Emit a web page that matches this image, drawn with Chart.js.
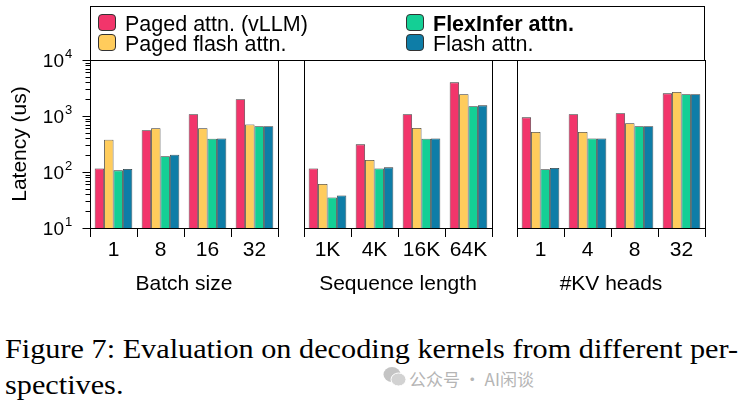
<!DOCTYPE html>
<html>
<head>
<meta charset="utf-8">
<script src="https://cdn.jsdelivr.net/npm/chart.js@4"></script>
<style>
  html, body { margin: 0; padding: 0; background: #fff; }
  #page { position: relative; width: 743px; height: 407px; overflow: hidden; font-family: "Liberation Sans", Arial, sans-serif; }
  .plot { position: absolute; left: 0; top: 0; width: 743px; height: 300px; }
  #legend { position: absolute; left: 90px; top: 6px; width: 615px; height: 55px; border: 1px solid #000; box-sizing: border-box; }
  .item { position: absolute; font-size: 21.5px; line-height: 21px; color: #000; white-space: nowrap; }
  .mark { position: absolute; width: 18px; height: 17px; border: 1px solid #333; border-radius: 4px; box-sizing: border-box; }
  .cap { position: absolute; left: 5px; font-family: "Liberation Serif", "Times New Roman", serif; font-size: 27.5px; color: #000; white-space: nowrap; transform-origin: 0 0; }
  #cap1 { top: 333px; }
  #cap2 { top: 369px; }
  #wm { position: absolute; left: 409px; top: 366px; font-family: "Noto Sans CJK SC", sans-serif; font-size: 17px; color: #b5b5b5; white-space: nowrap; }
</style>
</head>
<body>
<div id="page">
  <canvas id="c1" class="plot" width="743" height="300"></canvas>
  <canvas id="c2" class="plot" width="743" height="300"></canvas>
  <canvas id="c3" class="plot" width="743" height="300"></canvas>
  <div id="legend"></div>
  <span id="cap1" class="cap">Figure 7: Evaluation on decoding kernels from different per-</span>
  <span id="cap2" class="cap">spectives.</span>
  <svg style="position:absolute;left:383px;top:366px" width="24" height="22" viewBox="0 0 24 22">
    <ellipse cx="9" cy="8.5" rx="8.5" ry="7.5" fill="#c4c4c4"/>
    <ellipse cx="15.5" cy="13.5" rx="7.5" ry="6.5" fill="#d2d2d2" stroke="#fff" stroke-width="1"/>
  </svg>
  <div id="wm">公众号 · AI闲谈</div>
</div>
<script>
// Series names + colours
const seriesNames = ['Paged attn. (vLLM)', 'Paged flash attn.', 'FlexInfer attn.', 'Flash attn.'];
const seriesColors = ['#f2356b', '#ffcc5c', '#14cf95', '#0e7da7'];

// Panel 1: batch size
const batchLabels = ['1', '8', '16', '32'];
const batchPagedVllm = [116, 556, 1072, 2000];
const batchPagedFlash = [378, 603, 603, 705];
const batchFlexInfer = [107, 191, 393, 655];
const batchFlash = [113, 203, 396, 655];

// Panel 2: sequence length
const seqLabels = ['1K', '4K', '16K', '64K'];
const seqPagedVllm = [116, 312, 1072, 3990];
const seqPagedFlash = [61, 164, 611, 2440];
const seqFlexInfer = [35, 116, 393, 1490];
const seqFlash = [38, 121, 396, 1550];

// Panel 3: #KV heads
const headLabels = ['1', '4', '8', '32'];
const headPagedVllm = [946, 1072, 1117, 2540];
const headPagedFlash = [518, 518, 741, 2690];
const headFlexInfer = [112, 398, 655, 2450];
const headFlash = [118, 398, 655, 2450];

// y axis (log)
const yMajorTicks = [10, 100, 1000, 10000];
const yExponents = ['1', '2', '3', '4'];

// caption: stretch the serif text to the reference line width
const cap1 = document.getElementById('cap1');
const capScale = 733 / cap1.getBoundingClientRect().width;
cap1.style.transform = `scaleX(${capScale})`;
document.getElementById('cap2').style.transform = `scaleX(${capScale})`;

// legend (html)
const legendPos = [[98, 14], [98, 34], [406, 14], [406, 34]];
const legend = document.getElementById('legend');
seriesNames.forEach((name, i) => {
    const [x, y] = legendPos[i];
    const m = document.createElement('div');
    m.className = 'mark';
    m.style.left = (x - 91) + 'px';
    m.style.top = (y - 7) + 'px';
    m.style.background = seriesColors[i];
    legend.appendChild(m);
    const t = document.createElement('div');
    t.className = 'item';
    t.style.left = (x + 27 - 91) + 'px';
    t.style.top = (y - 7) + 'px';
    if (i === 2) t.style.fontWeight = 'bold';
    t.textContent = name;
    legend.appendChild(t);
});

// frame + y ticks
const framePlugin = {
    id: 'frame',
    afterDraw(chart, args, opts) {
        const ctx = chart.ctx;
        const a = chart.chartArea;
        const l = Math.floor(a.left) + 0.5, r = Math.floor(a.right) + 0.5;
        const t = Math.floor(a.top) + 0.5, b = Math.floor(a.bottom) + 0.5;
        ctx.save();
        ctx.strokeStyle = '#000';
        ctx.lineWidth = 1;
        ctx.strokeRect(l, t, r - l, b - t);
        if (opts.yLabels) {
            const ys = chart.scales.y;
            ctx.beginPath();
            yMajorTicks.forEach((v, k) => {
                const py = Math.round(ys.getPixelForValue(v)) + 0.5;
                ctx.moveTo(l - 8, py); ctx.lineTo(l, py);
                if (k < yMajorTicks.length - 1) {
                    for (let m = 2; m <= 9; m++) {
                        const my = Math.round(ys.getPixelForValue(v * m)) + 0.5;
                        ctx.moveTo(l - 5, my); ctx.lineTo(l, my);
                    }
                }
            });
            ctx.stroke();
            ctx.fillStyle = '#000';
            yMajorTicks.forEach((v, k) => {
                const py = ys.getPixelForValue(v);
                ctx.font = '19px "Liberation Sans", Arial, sans-serif';
                ctx.textAlign = 'right';
                ctx.textBaseline = 'alphabetic';
                ctx.fillText('10', 64, py + 7);
                ctx.font = '13px "Liberation Sans", Arial, sans-serif';
                ctx.textAlign = 'left';
                ctx.fillText(yExponents[k], 65, py - 2);
            });
        }
        ctx.restore();
    }
};

function makeChart(id, labels, series, title, left, right, withY) {
    const datasets = series.map((data, i) => ({
        label: seriesNames[i],
        data: data,
        backgroundColor: seriesColors[i],
        borderColor: 'rgba(25,25,25,0.9)',
        borderWidth: 0.8,
        categoryPercentage: 0.8,
        barPercentage: 1.0
    }));
    return new Chart(document.getElementById(id), {
        type: 'bar',
        data: { labels: labels, datasets: datasets },
        options: {
            responsive: false,
            animation: false,
            devicePixelRatio: 1,
            layout: { padding: { left: withY ? 0 : left, right: 743 - right, top: 60, bottom: 0 } },
            plugins: { legend: { display: false }, tooltip: { enabled: false }, frame: { yLabels: withY } },
            scales: {
                x: {
                    grid: { offset: true, drawOnChartArea: false, tickLength: 9, color: '#000', lineWidth: 1 },
                    border: { display: false },
                    ticks: { color: '#000', font: { size: 21, family: '"Liberation Sans", Arial, sans-serif' }, padding: 1, maxRotation: 0 },
                    title: { display: true, text: title, color: '#000', font: { size: 21, family: '"Liberation Sans", Arial, sans-serif' }, padding: { top: 0, bottom: 3 } },
                    afterFit: s => { s.height = 72; }
                },
                y: {
                    type: 'logarithmic',
                    min: 10,
                    max: 10000,
                    display: withY,
                    grid: { display: false },
                    border: { display: false },
                    ticks: { display: false },
                    title: { display: withY, text: 'Latency (us)', color: '#000', font: { size: 21, family: '"Liberation Sans", Arial, sans-serif' }, padding: { top: 8, bottom: 0 } },
                    afterFit: s => { if (withY) s.width = left; }
                }
            }
        },
        plugins: [framePlugin]
    });
}

makeChart('c1', batchLabels, [batchPagedVllm, batchPagedFlash, batchFlexInfer, batchFlash], 'Batch size', 90, 278, true);
makeChart('c2', seqLabels, [seqPagedVllm, seqPagedFlash, seqFlexInfer, seqFlash], 'Sequence length', 304, 492, false);
makeChart('c3', headLabels, [headPagedVllm, headPagedFlash, headFlexInfer, headFlash], '#KV heads', 517, 705, false);
</script>
</body>
</html>
